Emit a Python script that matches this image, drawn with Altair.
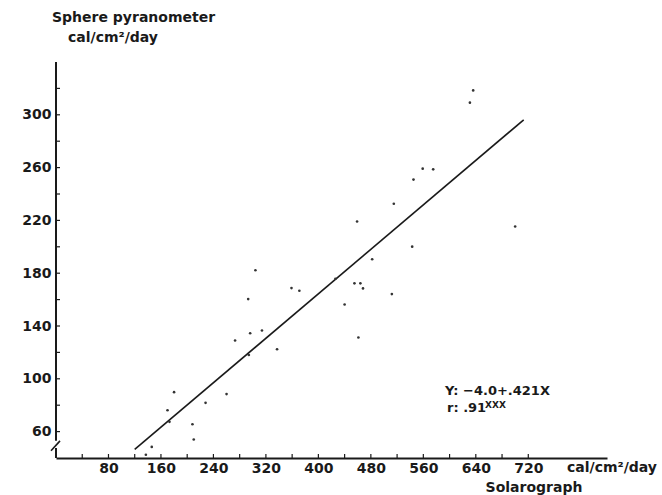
import altair as alt
import pandas as pd

# Scatter points (Solarograph vs Sphere pyranometer)
solarograph = [137, 146, 180, 170, 173, 208, 210, 228, 260, 273, 294, 296, 293, 304,
               314, 337, 359, 371, 426, 440, 455, 464, 468, 459, 461, 482, 512, 515,
               543, 545, 559, 575, 631, 636, 700]
pyranometer = [42.5, 48.4, 89.9, 76.2, 67.4, 65.6, 54.0, 81.8, 88.4, 129.0, 118.0, 134.5,
               160.4, 182.2, 136.6, 122.4, 168.7, 166.7, 175.8, 156.3, 172.3, 172.3,
               168.5, 219.2, 131.3, 190.6, 164.2, 232.6, 200.1, 250.9, 259.2, 258.7,
               309.2, 318.5, 215.4]

# Regression line end points (Y = -4.0 + .421X)
line_x = [120, 713]
line_y = [46.5, 296.2]

x_label_values = [80, 160, 240, 320, 400, 480, 560, 640, 720]
y_label_values = [60, 100, 140, 180, 220, 260, 300]
x_tick_values = list(range(40, 760, 40))
y_tick_values = list(range(60, 340, 20))

X_DOMAIN = [0, 840]
Y_DOMAIN = [40, 340]
W, H = 551, 396
FONT = "DejaVu Sans"
INK = "#1a1a1a"

pts = pd.DataFrame({"x": solarograph, "y": pyranometer})
reg = pd.DataFrame({"x": line_x, "y": line_y})
xt = pd.DataFrame({"x": x_tick_values})
yt = pd.DataFrame({"y": y_tick_values})

xscale = alt.Scale(domain=X_DOMAIN, nice=False, zero=False)
yscale = alt.Scale(domain=Y_DOMAIN, nice=False, zero=False)

xaxis = alt.Axis(values=x_label_values, title=None, grid=False, ticks=False,
                 domain=True, domainColor=INK, domainWidth=2,
                 labelFont=FONT, labelFontWeight="bold", labelFontSize=14,
                 labelColor=INK, labelPadding=3)
yaxis = alt.Axis(values=y_label_values, title=None, grid=False, ticks=False,
                 domain=False, labelFont=FONT, labelFontWeight="bold",
                 labelFontSize=14, labelColor=INK, labelPadding=5)

points = alt.Chart(pts).mark_circle(size=7, color="#333333", opacity=1).encode(
    x=alt.X("x:Q", scale=xscale, axis=xaxis),
    y=alt.Y("y:Q", scale=yscale, axis=yaxis),
)

line = alt.Chart(reg).mark_line(color=INK, strokeWidth=1.6).encode(
    x=alt.X("x:Q", scale=xscale),
    y=alt.Y("y:Q", scale=yscale),
)

xticks = alt.Chart(xt).mark_rule(color=INK, strokeWidth=1.2).encode(
    x=alt.X("x:Q", scale=xscale),
    y=alt.value(H),
    y2=alt.value(H - 4),
)
yticks = alt.Chart(yt).mark_rule(color=INK, strokeWidth=1.2).encode(
    y=alt.Y("y:Q", scale=yscale),
    x=alt.value(0),
    x2=alt.value(4),
)

# y axis line with a break near the bottom
yaxis_top = alt.Chart(pd.DataFrame({"a": [0]})).mark_rule(color=INK, strokeWidth=2).encode(
    x=alt.value(0), y=alt.datum(340, scale=yscale), y2=alt.datum(53)
)
yaxis_bot = alt.Chart(pd.DataFrame({"a": [0]})).mark_rule(color=INK, strokeWidth=2).encode(
    x=alt.value(0), y=alt.datum(47.5, scale=yscale), y2=alt.datum(40)
)
ybreak = alt.Chart(pd.DataFrame({"a": [0]})).mark_rule(color=INK, strokeWidth=1.6).encode(
    x=alt.value(-5), x2=alt.value(4), y=alt.datum(45.5, scale=yscale), y2=alt.datum(53)
)

def txt(s, x, y, size=14, align="left"):
    return alt.Chart(pd.DataFrame({"t": [s]})).mark_text(
        font=FONT, fontWeight="bold", fontSize=size, color=INK,
        align=align, baseline="middle"
    ).encode(text="t:N", x=alt.value(x), y=alt.value(y))

texts = [
    txt("Sphere  pyranometer", -4, -44),
    txt("cal/cm²/day", 12, -24),
    txt("cal/cm²/day", 511, 406),
    txt("Solarograph", 478, 426, align="center"),
    txt("Y: −4.0+.421X", 389, 329, size=13),
    txt("r: .91", 391, 346, size=13),
    txt("XXX", 429, 343, size=9),
]

chart = alt.layer(yaxis_top, yaxis_bot, ybreak, xticks, yticks, line, points, *texts).properties(
    width=W, height=H,
    autosize=alt.AutoSizeParams(type="none"),
    padding={"left": 56, "top": 62, "right": 55, "bottom": 37},
    background="white",
).configure_view(stroke=None)

chart.save("out.html", embed_options={"renderer": "svg", "actions": False})
